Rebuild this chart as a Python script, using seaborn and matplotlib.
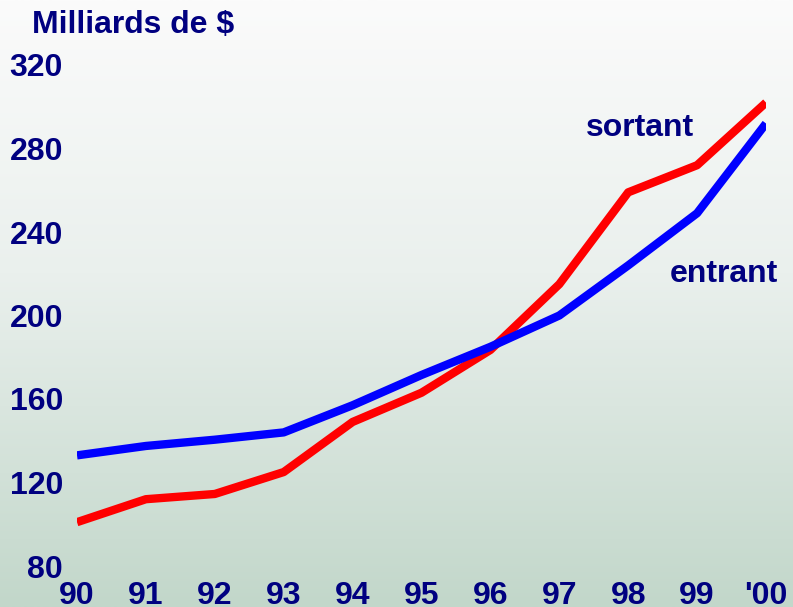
import numpy as np
import pandas as pd
import matplotlib
matplotlib.use("Agg")
import matplotlib.pyplot as plt
from matplotlib.colors import LinearSegmentedColormap
import seaborn as sns

# données (milliards de $)
annees = [90, 91, 92, 93, 94, 95, 96, 97, 98, 99, 100]
etiquettes = ["90", "91", "92", "93", "94", "95", "96", "97", "98", "99", "'00"]
sortant = [101, 112, 114.5, 125, 149, 163, 183.5, 215, 259, 272, 302]
entrant = [133, 137.5, 140.5, 144, 157, 171.5, 185, 200, 224, 249, 292]
yticks = [80, 120, 160, 200, 240, 280, 320]

df = pd.DataFrame({
    "annee": annees * 2,
    "valeur": sortant + entrant,
    "serie": ["sortant"] * len(annees) + ["entrant"] * len(annees),
})

sns.set_style("white")
plt.rcParams["font.family"] = ["Liberation Sans", "DejaVu Sans"]
navy = "#000080"

fig = plt.figure(figsize=(7.93, 6.07), dpi=100)

# fond en dégradé
bg = fig.add_axes([0, 0, 1, 1], zorder=0)
cmap = LinearSegmentedColormap.from_list(
    "fond", [(0.0, "#fbfbfb"), (0.45, "#eaf0ed"), (1.0, "#c2d7ca")])
grad = np.linspace(0, 1, 256).reshape(-1, 1)
bg.imshow(grad, aspect="auto", cmap=cmap, extent=[0, 1, 0, 1], origin="upper")
bg.axis("off")

ax = fig.add_axes([77 / 793, 41 / 607, 689 / 793, 501 / 607], zorder=1)
ax.patch.set_alpha(0)
sns.lineplot(data=df, x="annee", y="valeur", hue="serie",
             palette={"sortant": "#ff0000", "entrant": "#0000ff"},
             linewidth=6, legend=False, ax=ax, solid_capstyle="butt")

ax.set_xlim(90, 100)
ax.set_ylim(80, 320)
ax.set_xticks(annees)
ax.set_xticklabels(etiquettes)
ax.set_yticks(yticks)
ax.tick_params(axis="both", length=0, labelsize=23, labelcolor=navy)
ax.tick_params(axis="x", pad=11)
ax.tick_params(axis="y", pad=10)
for lab in ax.get_xticklabels() + ax.get_yticklabels():
    lab.set_fontweight("bold")
ax.set_xlabel("")
ax.set_ylabel("")
sns.despine(ax=ax, left=True, bottom=True)

fig.text(32 / 793, 1 - 25 / 607, "Milliards de $", fontsize=23, fontweight="bold",
         color=navy, va="center", ha="left")
ax.text(98.17, 290, "sortant", fontsize=23, fontweight="bold", color=navy,
        ha="center", va="center")
ax.text(99.39, 220, "entrant", fontsize=23, fontweight="bold", color=navy,
        ha="center", va="center")

fig.savefig("out.png", dpi=100)
